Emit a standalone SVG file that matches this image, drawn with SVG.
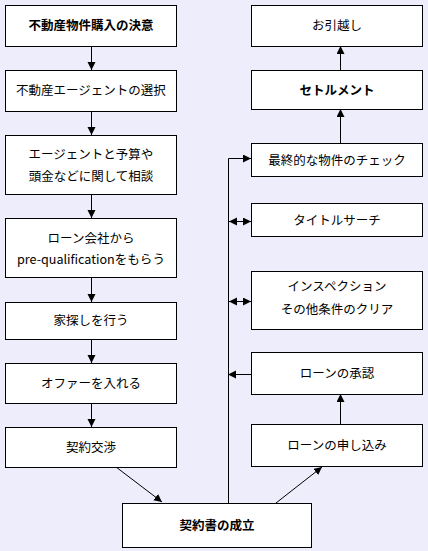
<svg xmlns="http://www.w3.org/2000/svg" width="428" height="551" viewBox="0 0 428 551">
<style>
.bg{fill:#EDEDFB}
.box{fill:#FFFFFF;stroke:#000000;stroke-width:1}
.t{font-family:"Noto Sans CJK JP","Noto Sans",sans-serif;font-size:12.5px;fill:#000;text-anchor:middle}
.b{font-weight:bold}
.ln{fill:none;stroke:#000;stroke-width:1}
</style>
<defs>
<marker id="ah" markerUnits="userSpaceOnUse" markerWidth="10" markerHeight="10" refX="8" refY="4" orient="auto-start-reverse">
<path d="M0,0 L8,4 L0,8 Z" fill="#000"/>
</marker>
</defs>
<rect class="bg" x="0" y="0" width="428" height="551"/>
<g id="connectors">
<line class="ln" x1="91.5" y1="46" x2="91.5" y2="70" marker-end="url(#ah)"/>
<line class="ln" x1="91.5" y1="111" x2="91.5" y2="135" marker-end="url(#ah)"/>
<line class="ln" x1="91.5" y1="194" x2="91.5" y2="218" marker-end="url(#ah)"/>
<line class="ln" x1="91.5" y1="277" x2="91.5" y2="302" marker-end="url(#ah)"/>
<line class="ln" x1="91.5" y1="339" x2="91.5" y2="363" marker-end="url(#ah)"/>
<line class="ln" x1="91.5" y1="403" x2="91.5" y2="427" marker-end="url(#ah)"/>
<line class="ln" x1="116" y1="467" x2="162" y2="502" marker-end="url(#ah)"/>
<line class="ln" x1="276" y1="503" x2="322" y2="467" marker-end="url(#ah)"/>
<line class="ln" x1="340.5" y1="424" x2="340.5" y2="394" marker-end="url(#ah)"/>
<line class="ln" x1="251" y1="374.5" x2="228" y2="374.5" marker-end="url(#ah)"/>
<line class="ln" x1="340.5" y1="143" x2="340.5" y2="109" marker-end="url(#ah)"/>
<line class="ln" x1="340.5" y1="70" x2="340.5" y2="46" marker-end="url(#ah)"/>
<polyline class="ln" points="228.5,503 228.5,158.5 251,158.5" marker-end="url(#ah)"/>
<line class="ln" x1="229" y1="221.5" x2="251" y2="221.5" marker-start="url(#ah)" marker-end="url(#ah)"/>
<line class="ln" x1="229" y1="301.5" x2="251" y2="301.5" marker-start="url(#ah)" marker-end="url(#ah)"/>
</g>
<g id="n1"><rect class="box" x="5.5" y="5.5" width="171" height="41"/><text class="t b" x="91" y="30">不動産物件購入の決意</text></g>
<g id="n2"><rect class="box" x="5.5" y="70.5" width="171" height="41"/><text class="t" x="91" y="95">不動産エージェントの選択</text></g>
<g id="n3"><rect class="box" x="5.5" y="135.5" width="171" height="59"/><text class="t" x="91" y="158.5">エージェントと予算や</text><text class="t" x="91" y="181">頭金などに関して相談</text></g>
<g id="n4"><rect class="box" x="5.5" y="218.5" width="171" height="59"/><text class="t" x="91" y="242.5">ローン会社から</text><text class="t" x="91" y="263.5" textLength="148" lengthAdjust="spacingAndGlyphs">pre-qualificationをもらう</text></g>
<g id="n5"><rect class="box" x="5.5" y="302.5" width="171" height="37"/><text class="t" x="91" y="325">家探しを行う</text></g>
<g id="n6"><rect class="box" x="5.5" y="363.5" width="171" height="40"/><text class="t" x="91" y="387.5">オファーを入れる</text></g>
<g id="n7"><rect class="box" x="5.5" y="427.5" width="171" height="40"/><text class="t" x="91" y="451.5">契約交渉</text></g>
<g id="n8"><rect class="box" x="122.5" y="503.5" width="189" height="44"/><text class="t b" x="217" y="530">契約書の成立</text></g>
<g id="n9"><rect class="box" x="251.5" y="5.5" width="171" height="41"/><text class="t" x="337" y="30">お引越し</text></g>
<g id="n10"><rect class="box" x="251.5" y="70.5" width="171" height="39"/><text class="t b" x="337" y="94.5">セトルメント</text></g>
<g id="n11"><rect class="box" x="251.5" y="143.5" width="171" height="33"/><text class="t" x="337" y="164.5">最終的な物件のチェック</text></g>
<g id="n12"><rect class="box" x="251.5" y="203.5" width="171" height="33"/><text class="t" x="337" y="224.5">タイトルサーチ</text></g>
<g id="n13"><rect class="box" x="251.5" y="271.5" width="171" height="58"/><text class="t" x="337" y="291">インスペクション</text><text class="t" x="337" y="314">その他条件のクリア</text></g>
<g id="n14"><rect class="box" x="251.5" y="352.5" width="171" height="42"/><text class="t" x="337" y="378">ローンの承認</text></g>
<g id="n15"><rect class="box" x="251.5" y="424.5" width="171" height="42"/><text class="t" x="337" y="450">ローンの申し込み</text></g>
</svg>
